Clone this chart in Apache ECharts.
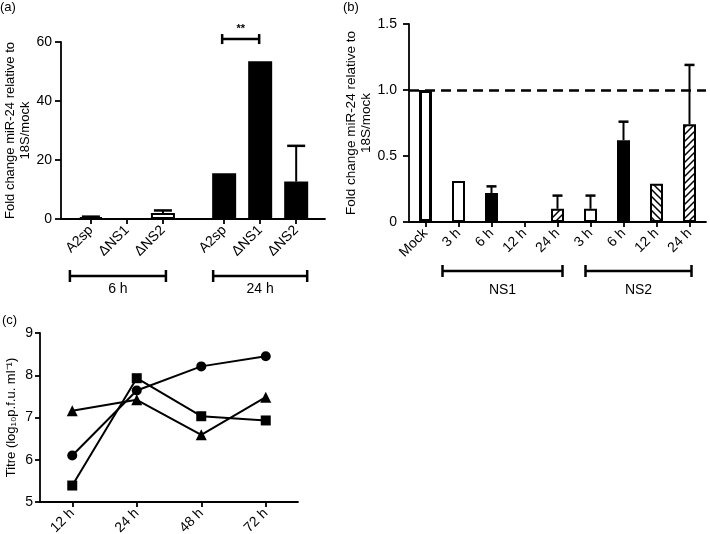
<!DOCTYPE html>
<html><head><meta charset="utf-8">
<script src="https://cdn.jsdelivr.net/npm/echarts@6/dist/echarts.min.js"></script>
<style>html,body{margin:0;padding:0;background:#fff}#c{width:710px;height:534px}</style>
</head><body><div id="c"></div>
<script>
// ---------- Panel (a) data ----------
const aLabels = ['A2sp', 'ΔNS1', 'ΔNS2', 'A2sp', 'ΔNS1', 'ΔNS2'];
const aGroups = ['6 h', '24 h'];
const aGroupRanges = [[0, 2], [3, 5]];
const aMeans = [0.6, 0, 2.0, 15.5, 53.5, 12.7];
const aErrTop = [0.8, 0, 2.9, 15.5, 53.5, 24.8];
const aSigPair = [3, 4];
const aSigText = '**';
const aSigLevel = 61;
const aTicks = [0, 20, 40, 60];

// ---------- Panel (b) data ----------
const bLabels = ['Mock', '3 h', '6 h', '12 h', '24 h', '3 h', '6 h', '12 h', '24 h'];
const bGroups = ['NS1', 'NS2'];
const bGroupRanges = [[1, 4], [5, 8]];
const bMeans = [1.0, 0.31, 0.22, 0, 0.10, 0.10, 0.62, 0.29, 0.74];
const bErrTop = [1.0, 0.31, 0.27, 0, 0.20, 0.20, 0.76, 0.29, 1.19];
const bRefLine = 1.0;
const bTicks = [0, 0.5, 1.0, 1.5];

// ---------- Panel (c) data ----------
const cTimes = ['12 h', '24 h', '48 h', '72 h'];
const cCircle = [6.10, 7.64, 8.21, 8.45];
const cSquare = [5.39, 7.93, 7.03, 6.93];
const cTriangle = [7.16, 7.42, 6.59, 7.48];
const cTicks = [5, 6, 7, 8, 9];

// ---------- styling / layout ----------
const FONT = '"Liberation Sans", Arial, Helvetica, sans-serif';
const INK = '#000';
const AXW = 1.8;
const TICKFS = 14;

// panel (a): bar slots on a continuous scale (group gap wider than bar spacing)
const A_LEAD = 0.83, A_GAP = 0.7, A_MAX = 7.33;
const aPos = aLabels.map((_, i) => A_LEAD + i + (i >= 3 ? A_GAP : 0));
const aFillKind = ['white', 'white', 'white', 'black', 'black', 'black'];
const bFillKind = ['white', 'white', 'black', 'back', 'slash', 'white', 'black', 'back', 'slash'];

function hatch(dir) {
  const s = 7, cv = document.createElement('canvas');
  cv.width = s; cv.height = s;
  const g = cv.getContext('2d');
  g.fillStyle = '#fff'; g.fillRect(0, 0, s, s);
  g.strokeStyle = '#000'; g.lineWidth = 1.5; g.lineCap = 'square';
  g.beginPath();
  if (dir === 'slash') {
    g.moveTo(-1, s + 1); g.lineTo(s + 1, -1);
    g.moveTo(-2, 2); g.lineTo(2, -2);
    g.moveTo(s - 2, s + 2); g.lineTo(s + 2, s - 2);
  } else {
    g.moveTo(-1, -1); g.lineTo(s + 1, s + 1);
    g.moveTo(s - 2, -2); g.lineTo(s + 2, 2);
    g.moveTo(-2, s - 2); g.lineTo(2, s + 2);
  }
  g.stroke();
  return cv;
}
const PAT = { slash: hatch('slash'), back: hatch('back') };
function fillOf(kind) {
  if (kind === 'white') return '#fff';
  if (kind === 'black') return '#000';
  return { image: PAT[kind], repeat: 'repeat' };
}

function errRender(capW, lw) {
  return function (params, api) {
    const x = api.value(0), lo = api.value(1), hi = api.value(2);
    if (!(hi > lo + 1e-9)) return null;
    const p0 = api.coord([x, lo]), p1 = api.coord([x, hi]);
    return {
      type: 'group', children: [
        { type: 'line', shape: { x1: p0[0], y1: p0[1], x2: p1[0], y2: p1[1] }, style: { stroke: INK, lineWidth: lw } },
        { type: 'line', shape: { x1: p1[0] - capW / 2, y1: p1[1], x2: p1[0] + capW / 2, y2: p1[1] }, style: { stroke: INK, lineWidth: lw + 0.5 } }
      ]
    };
  };
}

function bracketRender(labels, pads, dy, dyText) {
  return function (params, api) {
    const i = params.dataIndex;
    const a = api.coord([api.value(0), 0]);
    const b = api.coord([api.value(1), 0]);
    const x1 = a[0] + pads[i][0], x2 = b[0] + pads[i][1];
    const y = a[1] + dy;
    return {
      type: 'group', children: [
        { type: 'line', shape: { x1: x1, y1: y, x2: x2, y2: y }, style: { stroke: INK, lineWidth: 2.5 } },
        { type: 'line', shape: { x1: x1, y1: y - 6, x2: x1, y2: y + 6 }, style: { stroke: INK, lineWidth: 2.5 } },
        { type: 'line', shape: { x1: x2, y1: y - 6, x2: x2, y2: y + 6 }, style: { stroke: INK, lineWidth: 2.5 } },
        { type: 'text', x: (x1 + x2) / 2, y: a[1] + dyText,
          style: { text: labels[i], align: 'center', verticalAlign: 'middle', font: '14px ' + FONT, fill: INK } }
      ]
    };
  };
}

const axisCommon = {
  axisLine: { show: true, lineStyle: { color: INK, width: AXW } },
  axisTick: { show: true, lineStyle: { color: INK, width: AXW } },
  splitLine: { show: false },
  axisLabel: { color: INK, fontFamily: FONT, fontSize: TICKFS }
};

const chart = echarts.init(document.getElementById('c'), null, { renderer: 'canvas' });
const option = {
  backgroundColor: '#fff',
  animation: false,
  textStyle: { fontFamily: FONT },
  grid: [
    { left: 61, top: 42, width: 264, height: 177, outerBoundsMode: 'none' },
    { left: 409, top: 24, width: 297, height: 198, outerBoundsMode: 'none' },
    { left: 40, top: 333, width: 258, height: 169, outerBoundsMode: 'none' }
  ],
  graphic: [
    { type: 'text', left: 0, top: 1, style: { text: '(a)', font: '13px ' + FONT, fill: INK } },
    { type: 'text', left: 343, top: 1, style: { text: '(b)', font: '13px ' + FONT, fill: INK } },
    { type: 'text', left: 2, top: 314, style: { text: '(c)', font: '13px ' + FONT, fill: INK } }
  ],
  xAxis: [
    Object.assign({}, axisCommon, {
      gridIndex: 0, type: 'value', min: 0, max: A_MAX,
      axisTick: { show: true, length: 5, customValues: aPos, lineStyle: { color: INK, width: AXW } },
      axisLabel: {
        color: INK, fontFamily: FONT, fontSize: TICKFS, rotate: 45, margin: 9, customValues: aPos,
        formatter: v => { const i = aPos.findIndex(p => Math.abs(p - v) < 1e-6); return i >= 0 ? aLabels[i] : ''; }
      }
    }),
    Object.assign({}, axisCommon, {
      gridIndex: 1, type: 'category', data: bLabels,
      axisTick: { show: true, length: 5, alignWithLabel: true, lineStyle: { color: INK, width: AXW } },
      axisLabel: { color: INK, fontFamily: FONT, fontSize: TICKFS, rotate: 45, margin: 9, interval: 0 }
    }),
    Object.assign({}, axisCommon, {
      gridIndex: 2, type: 'category', data: cTimes,
      axisTick: { show: true, length: 5, alignWithLabel: true, lineStyle: { color: INK, width: AXW } },
      axisLabel: { color: INK, fontFamily: FONT, fontSize: TICKFS, rotate: 45, margin: 9, interval: 0 }
    })
  ],
  yAxis: [
    Object.assign({}, axisCommon, {
      gridIndex: 0, type: 'value', min: aTicks[0], max: aTicks[aTicks.length - 1], interval: aTicks[1] - aTicks[0],
      axisTick: { show: true, length: 6, lineStyle: { color: INK, width: AXW } },
      axisLabel: { color: INK, fontFamily: FONT, fontSize: TICKFS, margin: 9 },
      name: 'Fold change miR-24 relative to\n18S/mock', nameLocation: 'middle', nameGap: 22,
      nameTextStyle: { color: INK, fontFamily: FONT, fontSize: 13, lineHeight: 15 }
    }),
    Object.assign({}, axisCommon, {
      gridIndex: 1, type: 'value', min: bTicks[0], max: bTicks[bTicks.length - 1], interval: bTicks[1] - bTicks[0],
      axisTick: { show: true, length: 6, lineStyle: { color: INK, width: AXW } },
      axisLabel: { color: INK, fontFamily: FONT, fontSize: TICKFS, margin: 12, formatter: v => v === 0 ? '0' : v.toFixed(1) },
      name: 'Fold change miR-24 relative to\n18S/mock', nameLocation: 'middle', nameGap: 23,
      nameTextStyle: { color: INK, fontFamily: FONT, fontSize: 13.5, lineHeight: 15 }
    }),
    Object.assign({}, axisCommon, {
      gridIndex: 2, type: 'value', min: cTicks[0], max: cTicks[cTicks.length - 1], interval: cTicks[1] - cTicks[0],
      axisTick: { show: true, length: 5, lineStyle: { color: INK, width: AXW } },
      axisLabel: { color: INK, fontFamily: FONT, fontSize: TICKFS, margin: 7 },
      name: 'Titre (log\u2081\u2080p.f.u. ml\u207B\u00B9)', nameLocation: 'middle', nameGap: 22,
      nameTextStyle: { color: INK, fontFamily: FONT, fontSize: 13 }
    })
  ],
  series: [
    // ----- panel (a) -----
    {
      type: 'bar', xAxisIndex: 0, yAxisIndex: 0, barWidth: 24, z: 2,
      data: aMeans.map((v, i) => ({
        value: [aPos[i], v],
        itemStyle: { color: fillOf(aFillKind[i]), borderColor: INK, borderWidth: 2 }
      }))
    },
    {
      type: 'custom', xAxisIndex: 0, yAxisIndex: 0, z: 3, clip: false,
      renderItem: errRender(18, 2),
      data: aMeans.map((v, i) => [aPos[i], v, aErrTop[i]])
    },
    {
      type: 'custom', xAxisIndex: 0, yAxisIndex: 0, z: 3, clip: false,
      renderItem: bracketRender(aGroups, [[-21, 3], [-11, 11]], 57, 70),
      data: aGroupRanges.map(r => [aPos[r[0]], aPos[r[1]]])
    },
    {
      type: 'custom', xAxisIndex: 0, yAxisIndex: 0, z: 3, clip: false,
      renderItem: function (params, api) {
        const a = api.coord([api.value(0), api.value(2)]);
        const b = api.coord([api.value(1), api.value(2)]);
        const x1 = a[0] - 2, x2 = b[0] - 1, y = a[1];
        return {
          type: 'group', children: [
            { type: 'line', shape: { x1: x1, y1: y, x2: x2, y2: y }, style: { stroke: INK, lineWidth: 2.5 } },
            { type: 'line', shape: { x1: x1, y1: y - 5, x2: x1, y2: y + 5 }, style: { stroke: INK, lineWidth: 2.5 } },
            { type: 'line', shape: { x1: x2, y1: y - 5, x2: x2, y2: y + 5 }, style: { stroke: INK, lineWidth: 2.5 } },
            { type: 'text', x: (x1 + x2) / 2, y: y - 10,
              style: { text: aSigText, align: 'center', verticalAlign: 'middle', font: 'bold 11px ' + FONT, fill: INK } }
          ]
        };
      },
      data: [[aPos[aSigPair[0]], aPos[aSigPair[1]], aSigLevel]]
    },
    // ----- panel (b) -----
    {
      type: 'bar', xAxisIndex: 1, yAxisIndex: 1, barWidth: 13, z: 2,
      data: bMeans.map((v, i) => ({
        value: v,
        itemStyle: { color: fillOf(bFillKind[i]), borderColor: INK, borderWidth: i === 0 ? 3 : 2 }
      })),
      markLine: {
        symbol: 'none', silent: true, label: { show: false },
        lineStyle: { color: INK, width: 2.5, type: [10, 6] },
        data: [{ yAxis: bRefLine }]
      }
    },
    {
      type: 'custom', xAxisIndex: 1, yAxisIndex: 1, z: 3, clip: false,
      renderItem: errRender(10, 2),
      data: bMeans.map((v, i) => [i, v, bErrTop[i]])
    },
    {
      type: 'custom', xAxisIndex: 1, yAxisIndex: 1, z: 3, clip: false,
      renderItem: bracketRender(bGroups, [[-16, 5], [-5, 2]], 49, 68),
      data: bGroupRanges.map(r => [r[0], r[1]])
    },
    // ----- panel (c) -----
    {
      type: 'line', xAxisIndex: 2, yAxisIndex: 2, data: cCircle, symbol: 'circle', symbolSize: 10,
      lineStyle: { color: INK, width: 2 }, itemStyle: { color: INK }, z: 3
    },
    {
      type: 'line', xAxisIndex: 2, yAxisIndex: 2, data: cSquare, symbol: 'rect', symbolSize: 10,
      lineStyle: { color: INK, width: 2 }, itemStyle: { color: INK }, z: 3
    },
    {
      type: 'line', xAxisIndex: 2, yAxisIndex: 2, data: cTriangle, symbol: 'triangle', symbolSize: 11,
      lineStyle: { color: INK, width: 2 }, itemStyle: { color: INK }, z: 3
    }
  ]
};
chart.setOption(option);
</script>
</body></html>
